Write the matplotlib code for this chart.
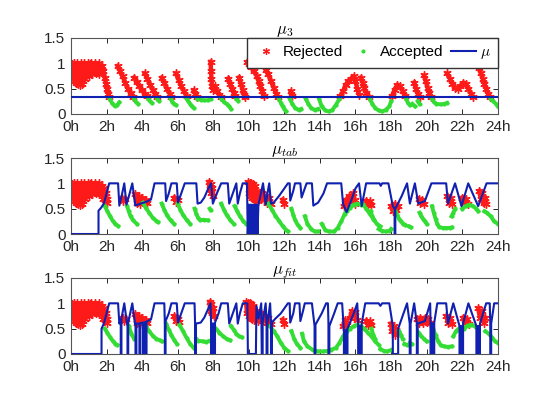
import matplotlib
matplotlib.use("Agg")
import matplotlib.pyplot as plt
from matplotlib.lines import Line2D

plt.rcParams['font.family'] = ['Liberation Sans', 'DejaVu Sans']
plt.rcParams['mathtext.fontset'] = 'cm'

RED = '#ff1a1a'
GREEN = '#33dd33'
BLUE = '#1020b0'

hours = list(range(0, 25, 2))
hour_labels = [f"{h}h" for h in hours]
yticks = [0, 0.5, 1, 1.5]
ytick_labels = ["0", "0.5", "1", "1.5"]
titles = [r"$\mu_3$", r"$\mu_{tab}$", r"$\mu_{fit}$"]

# noisy block of rejected readings at the start of the day (same in all panels)
blob = [(0.0, 0.75), (0.05, 0.98), (0.1, 0.7), (0.15, 1.0), (0.2, 0.65), (0.25, 0.95),
        (0.3, 0.62), (0.35, 1.0), (0.4, 0.6), (0.45, 0.92), (0.5, 0.58), (0.55, 1.0),
        (0.6, 0.6), (0.65, 0.97), (0.7, 0.65), (0.75, 1.0), (0.8, 0.7), (0.85, 0.95),
        (0.9, 0.78), (0.95, 1.0), (1.0, 0.75), (1.05, 0.98), (1.1, 0.8), (1.15, 1.0),
        (1.2, 0.78), (1.25, 0.95), (1.3, 0.85), (1.35, 1.0), (1.4, 0.8), (1.45, 0.97),
        (1.5, 0.82), (1.55, 1.0), (1.6, 0.78), (1.65, 0.95), (1.7, 0.85)]

# ---- panel 1: mu_3 (constant threshold)
mu3_line = [(0, 0.33), (24, 0.33)]
mu3_rej = [
    blob + [(1.75, 0.95), (1.82, 0.85), (1.9, 0.72), (1.97, 0.6), (2.03, 0.5), (2.1, 0.4), (2.15, 0.34)],
    [(2.62, 0.95), (2.75, 0.85), (2.9, 0.74), (3.05, 0.62), (3.2, 0.5), (3.35, 0.42), (3.5, 0.34)],
    [(3.55, 0.72), (3.7, 0.64), (3.85, 0.55), (4.0, 0.47), (4.15, 0.4), (4.3, 0.35)],
    [(4.15, 0.8), (4.3, 0.7), (4.45, 0.58), (4.6, 0.48), (4.75, 0.4), (4.85, 0.34)],
    [(5.1, 0.72), (5.25, 0.62), (5.4, 0.5), (5.55, 0.4), (5.65, 0.34)],
    [(5.9, 0.8), (6.05, 0.68), (6.2, 0.55), (6.35, 0.45), (6.5, 0.36)],
    [(6.9, 0.47), (7.0, 0.4), (7.1, 0.34)],
    [(7.85, 1.03), (7.88, 0.85), (7.9, 0.7), (7.93, 0.55), (8.0, 0.48), (8.1, 0.55),
     (8.2, 0.45), (8.35, 0.38), (8.45, 0.34)],
    [(8.85, 0.7), (8.95, 0.6), (9.05, 0.5), (9.15, 0.42), (9.25, 0.35)],
    [(9.45, 0.72), (9.55, 0.6), (9.65, 0.48), (9.75, 0.38), (9.8, 0.33)],
    [(9.9, 1.03), (10.0, 0.98), (10.15, 0.92), (10.3, 0.85), (10.45, 0.75), (10.55, 0.65),
     (10.65, 0.55), (10.75, 0.45), (10.85, 0.35)],
    [(10.95, 0.87), (11.1, 0.78), (11.25, 0.65), (11.4, 0.52), (11.55, 0.4), (11.65, 0.33)],
    [(12.35, 0.45), (12.45, 0.36)],
    [(15.15, 0.35), (15.3, 0.45), (15.45, 0.58), (15.6, 0.65), (15.75, 0.7), (15.9, 0.75),
     (16.0, 0.65), (16.1, 0.5), (16.2, 0.38)],
    [(16.3, 0.72), (16.4, 0.62), (16.5, 0.52), (16.6, 0.42), (16.75, 0.34)],
    [(18.05, 0.35), (18.2, 0.48), (18.35, 0.58), (18.5, 0.55), (18.65, 0.45), (18.8, 0.36)],
    [(19.3, 0.62), (19.4, 0.5), (19.5, 0.4), (19.6, 0.34)],
    [(19.85, 0.76), (19.95, 0.65), (20.05, 0.52), (20.15, 0.42), (20.25, 0.34)],
    [(21.15, 0.8), (21.3, 0.7), (21.45, 0.6), (21.6, 0.52), (21.75, 0.5), (21.9, 0.55),
     (22.05, 0.62), (22.2, 0.6), (22.35, 0.5), (22.5, 0.4), (22.6, 0.34)],
    [(22.95, 0.9), (23.05, 0.8), (23.15, 0.7), (23.25, 0.6), (23.35, 0.5), (23.45, 0.4), (23.55, 0.33)],
]
mu3_acc = [
    [(2.17, 0.3), (2.3, 0.22), (2.45, 0.16), (2.6, 0.18), (2.72, 0.23)],
    [(3.55, 0.3), (3.65, 0.24), (3.78, 0.2)],
    [(4.35, 0.3), (4.45, 0.25), (4.55, 0.22)],
    [(4.85, 0.3), (4.95, 0.26)],
    [(5.6, 0.3), (5.7, 0.24), (5.8, 0.2), (5.9, 0.18)],
    [(6.5, 0.3), (6.6, 0.25), (6.7, 0.2), (6.8, 0.15), (6.9, 0.12)],
    [(7.1, 0.3), (7.3, 0.28), (7.5, 0.27), (7.7, 0.27), (7.85, 0.3)],
    [(8.45, 0.3), (8.6, 0.24), (8.75, 0.2), (8.9, 0.15), (9.0, 0.1)],
    [(9.3, 0.3), (9.4, 0.26)],
    [(11.7, 0.3), (11.8, 0.22), (11.9, 0.15), (12.0, 0.1), (12.1, 0.05)],
    [(12.3, 0.3), (12.45, 0.2), (12.6, 0.12), (12.8, 0.08), (12.95, 0.1)],
    [(13.2, 0.3), (13.35, 0.2), (13.5, 0.12), (13.7, 0.08), (13.9, 0.1)],
    [(13.95, 0.3), (14.1, 0.15), (14.3, 0.07), (14.5, 0.05), (14.7, 0.08), (14.9, 0.18), (15.1, 0.3)],
    [(16.8, 0.3), (16.95, 0.2), (17.1, 0.12), (17.3, 0.07), (17.5, 0.05), (17.7, 0.08),
     (17.9, 0.15), (18.0, 0.25)],
    [(18.85, 0.3), (18.95, 0.22), (19.05, 0.18)],
    [(19.2, 0.2), (19.35, 0.15)],
    [(19.5, 0.25), (19.6, 0.2)],
    [(20.3, 0.3), (20.4, 0.24), (20.55, 0.2), (20.8, 0.19), (21.0, 0.2), (21.15, 0.22)],
    [(23.6, 0.3), (23.75, 0.25), (23.9, 0.2), (24.0, 0.15)],
]

# ---- panel 2: mu_tab
mutab_line = [
    (0, 0), (1.55, 0), (1.55, 0.46), (1.7, 0.52), (1.85, 0.6), (2.0, 0.8), (2.15, 1.0),
    (2.65, 1.0), (2.72, 0.56), (2.85, 0.75), (3.0, 1.0), (3.12, 0.58), (3.3, 0.8), (3.45, 1.0),
    (3.62, 0.56), (3.9, 0.6), (4.2, 0.63), (4.5, 0.68), (4.7, 1.0), (5.3, 1.0), (5.35, 0.65),
    (5.5, 0.8), (5.65, 1.0), (5.95, 1.0), (6.02, 0.62), (6.2, 0.8), (6.4, 1.0), (7.05, 1.0),
    (7.12, 0.6), (7.3, 0.62), (7.5, 0.72), (7.7, 0.88), (7.88, 1.0), (7.98, 0.6), (8.2, 0.8),
    (8.45, 1.0), (8.82, 1.0), (8.9, 0.6), (9.1, 0.8), (9.3, 1.0), (9.38, 0.6), (9.5, 0.8),
    (9.66, 1.0), (9.9, 1.0), (9.94, 0.0), (10.0, 0.58), (10.04, 0), (10.09, 0.58), (10.13, 0),
    (10.18, 0.58), (10.22, 0), (10.27, 0.58), (10.31, 0), (10.36, 0.58), (10.4, 0),
    (10.45, 0.58), (10.49, 0), (10.54, 0.58), (10.62, 0.7), (10.8, 1.0), (10.95, 0.58),
    (11.05, 0.8), (11.15, 1.0), (11.25, 0.6), (11.4, 0.62), (11.7, 0.75), (12.0, 0.9),
    (12.2, 1.0), (12.3, 1.0), (12.33, 0.66), (12.5, 0.85), (12.6, 1.0), (12.9, 1.0),
    (12.97, 0.72), (13.1, 0.85), (13.25, 1.0), (13.55, 1.0), (13.63, 0.56), (13.9, 0.62),
    (14.2, 0.8), (14.4, 1.0), (15.2, 1.0), (15.3, 0.6), (15.5, 0.43), (15.8, 0.7),
    (16.0, 0.9), (16.2, 1.0), (16.35, 0.55), (16.6, 1.0), (17.35, 1.0), (17.42, 0.95),
    (17.5, 1.0), (17.85, 1.0), (18.1, 0.55), (18.2, 0.5), (18.2, 0.0), (18.24, 0.0),
    (18.24, 0.5), (18.6, 0.75), (18.9, 1.0), (19.06, 0.6), (19.34, 1.0), (19.53, 0.6),
    (19.9, 0.65), (20.27, 1.0), (21.1, 1.0), (21.2, 0.6), (21.6, 1.0), (21.96, 0.55),
    (22.34, 1.0), (22.9, 0.55), (23.37, 1.0), (24.0, 1.0),
]
mutab_rej = [
    blob + [(1.75, 0.95), (1.8, 0.7), (1.85, 0.9), (1.9, 0.68), (1.95, 0.8), (2.0, 0.62), (2.05, 0.7)],
    [(2.85, 0.72), (2.95, 0.66), (3.05, 0.7)],
    [(3.6, 0.78), (3.7, 0.62), (3.8, 0.75), (3.9, 0.6), (4.0, 0.72), (4.1, 0.62), (4.2, 0.68), (4.3, 0.62)],
    [(5.8, 0.72), (5.9, 0.64), (6.0, 0.68)],
    [(7.75, 1.03), (7.8, 0.88), (7.85, 0.98), (7.9, 0.8), (7.95, 0.9), (8.0, 0.76)],
    [(9.95, 1.02), (10.0, 0.8), (10.05, 1.0), (10.1, 0.75), (10.15, 1.0), (10.2, 0.72),
     (10.25, 0.98), (10.3, 0.7), (10.35, 0.95), (10.4, 0.68), (10.45, 0.85), (10.5, 0.66),
     (10.55, 0.78), (10.6, 0.7)],
    [(10.75, 0.8), (10.85, 0.68), (10.95, 0.75), (11.05, 0.62), (11.15, 0.72), (11.25, 0.6)],
    [(11.9, 0.68), (12.0, 0.6)],
    [(15.35, 0.55), (15.45, 0.68), (15.55, 0.6), (15.65, 0.75), (15.75, 0.7), (15.85, 0.8),
     (15.95, 0.68), (16.0, 0.6)],
    [(16.6, 0.66), (16.7, 0.58), (16.8, 0.65), (16.9, 0.58)],
    [(18.0, 0.55), (18.1, 0.45), (18.2, 0.6), (18.3, 0.48), (18.4, 0.55)],
    [(19.55, 0.7), (19.65, 0.62), (19.75, 0.68), (19.85, 0.6)],
    [(21.15, 0.75), (21.25, 0.62), (21.35, 0.72), (21.45, 0.6)],
    [(22.0, 0.72), (22.1, 0.62), (22.2, 0.7), (22.3, 0.6)],
    [(22.95, 0.85), (23.05, 0.7), (23.1, 0.8), (23.2, 0.62), (23.3, 0.72), (23.35, 0.6)],
]
mutab_acc = [
    [(1.9, 0.55), (2.05, 0.45), (2.2, 0.35), (2.35, 0.26), (2.5, 0.2), (2.65, 0.16)],
    [(3.15, 0.55), (3.25, 0.45), (3.35, 0.35), (3.5, 0.27), (3.7, 0.2)],
    [(4.05, 0.62), (4.2, 0.52), (4.4, 0.42), (4.6, 0.32), (4.8, 0.26), (4.9, 0.24)],
    [(5.1, 0.6), (5.25, 0.48), (5.4, 0.37), (5.6, 0.27), (5.8, 0.2)],
    [(6.0, 0.6), (6.15, 0.48), (6.3, 0.38), (6.5, 0.28), (6.7, 0.2)],
    [(6.95, 0.5), (7.05, 0.4), (7.15, 0.32), (7.25, 0.28), (7.5, 0.28), (7.7, 0.27)],
    [(7.8, 0.5), (7.85, 0.47)],
    [(8.45, 0.6), (8.6, 0.48), (8.75, 0.38), (8.95, 0.28), (9.15, 0.2)],
    [(9.2, 0.55), (9.35, 0.45), (9.5, 0.35), (9.7, 0.25), (9.85, 0.2)],
    [(11.1, 0.6), (11.3, 0.48), (11.5, 0.36), (11.7, 0.26), (11.9, 0.16), (12.1, 0.08), (12.2, 0.05)],
    [(12.4, 0.5), (12.5, 0.38), (12.6, 0.28), (12.75, 0.18), (12.9, 0.12)],
    [(13.15, 0.35), (13.3, 0.2), (13.5, 0.1), (13.7, 0.05), (13.9, 0.05)],
    [(14.1, 0.2), (14.3, 0.08), (14.5, 0.05), (14.8, 0.05), (15.0, 0.12), (15.2, 0.25), (15.4, 0.4)],
    [(15.5, 0.45), (15.7, 0.52), (15.9, 0.58), (16.1, 0.6), (16.3, 0.58)],
    [(16.4, 0.6), (16.6, 0.5), (16.8, 0.4), (17.0, 0.3), (17.2, 0.2), (17.4, 0.15)],
    [(16.85, 0.45), (16.95, 0.35), (17.05, 0.28)],
    [(17.3, 0.1), (17.5, 0.06), (17.7, 0.05), (17.9, 0.06), (18.0, 0.1)],
    [(18.25, 0.45), (18.35, 0.38), (18.45, 0.3), (18.55, 0.25)],
    [(18.7, 0.2), (18.8, 0.18)],
    [(19.0, 0.15), (19.1, 0.13)],
    [(19.6, 0.42), (19.7, 0.35), (19.8, 0.3), (19.9, 0.25), (20.0, 0.2)],
    [(20.3, 0.55), (20.4, 0.42), (20.5, 0.3), (20.6, 0.2), (20.7, 0.14), (20.9, 0.12),
     (21.1, 0.12), (21.3, 0.12), (21.4, 0.13)],
    [(21.4, 0.35), (21.5, 0.42), (21.6, 0.5)],
    [(22.0, 0.5), (22.2, 0.55), (22.4, 0.58), (22.6, 0.55), (22.8, 0.5), (22.9, 0.45)],
    [(23.25, 0.45), (23.4, 0.42), (23.6, 0.35), (23.8, 0.25), (24.0, 0.2)],
]

# ---- panel 3: mu_fit
mufit_line = [
    (0, 0), (1.72, 0), (1.72, 0.5), (1.85, 0.6), (2.0, 0.8), (2.15, 1.0), (2.65, 1.0),
    (2.72, 0.6), (2.8, 0.68), (2.8, 0), (2.84, 0), (2.84, 0.7), (3.0, 1.0), (3.15, 0.6),
    (3.18, 0.6), (3.18, 0), (3.22, 0), (3.22, 0.62), (3.45, 1.0), (3.6, 0.6), (3.63, 0.6),
    (3.63, 0), (3.68, 0), (3.68, 0.6), (3.85, 0.6), (3.85, 0), (3.9, 0), (3.9, 0.61),
    (4.05, 0.62), (4.05, 0), (4.1, 0), (4.1, 0.62), (4.2, 0.63), (4.2, 0), (4.25, 0),
    (4.25, 0.64), (4.5, 0.68), (4.7, 1.0), (5.25, 1.0), (5.28, 0.6), (5.28, 0), (5.32, 0),
    (5.32, 0.65), (5.5, 0.8), (5.65, 1.0), (5.95, 1.0), (6.02, 0.62), (6.2, 0.8), (6.4, 1.0),
    (6.95, 1.0), (6.98, 0.6), (6.98, 0), (7.03, 0), (7.03, 0.6), (7.3, 0.62), (7.5, 0.72),
    (7.7, 0.88), (7.85, 1.0), (7.88, 0.6), (7.88, 0), (7.93, 0), (7.93, 0.6), (8.05, 0.6),
    (8.05, 0), (8.1, 0), (8.1, 0.62), (8.3, 0.8), (8.45, 1.0), (8.82, 1.0), (8.9, 0.6),
    (9.1, 0.8), (9.3, 1.0), (9.38, 0.6), (9.5, 0.8), (9.66, 1.0), (9.92, 1.0), (9.95, 0),
    (10.4, 0), (10.43, 0.95), (10.55, 0.7), (10.7, 1.0), (10.73, 0), (10.78, 0), (10.78, 0.62),
    (10.95, 1.0), (11.0, 0.6), (11.0, 0), (11.05, 0), (11.05, 0.6), (11.2, 1.0), (11.25, 0.6),
    (11.25, 0), (11.3, 0), (11.3, 0.62), (11.5, 0.7), (11.8, 0.8), (12.0, 0.9), (12.2, 1.0),
    (12.3, 1.0), (12.33, 0.62), (12.5, 0.8), (12.6, 1.0), (12.85, 1.0), (12.9, 0.65),
    (13.05, 0.85), (13.15, 1.0), (13.55, 1.0), (13.7, 0.55), (13.7, 0), (13.75, 0),
    (13.75, 0.58), (14.1, 0.8), (14.35, 1.0), (14.45, 1.0), (14.48, 0.6), (14.48, 0),
    (14.53, 0), (14.53, 0.55), (14.8, 0.8), (15.0, 1.0), (15.25, 1.0), (15.35, 0.45),
    (15.35, 0), (15.4, 0), (15.4, 0.45), (15.5, 0.48), (15.5, 0), (15.55, 0), (15.55, 0.5),
    (15.9, 0.8), (16.1, 1.0), (16.15, 0.6), (16.15, 0), (16.2, 0), (16.2, 0.55), (16.3, 0.55),
    (16.3, 0), (16.35, 0), (16.35, 0.6), (16.55, 1.0), (17.3, 1.0), (17.4, 0.95), (17.5, 1.0),
    (17.9, 1.0), (18.1, 0.55), (18.1, 0), (18.4, 0), (18.4, 0.5), (18.9, 1.0), (19.05, 0.6),
    (19.05, 0), (19.1, 0), (19.1, 0.6), (19.3, 1.0), (19.45, 0.6), (19.45, 0), (19.5, 0),
    (19.5, 0.6), (19.9, 0.65), (20.2, 1.0), (20.22, 0.6), (20.22, 0), (20.27, 0),
    (20.27, 0.6), (20.38, 0.6), (20.38, 0), (20.43, 0), (20.43, 0.62), (20.6, 1.0), (21.1, 1.0),
    (21.2, 0.6), (21.5, 1.0), (21.85, 0.55), (21.85, 0), (21.9, 0), (21.9, 0.55), (22.0, 0.55),
    (22.0, 0), (22.05, 0), (22.05, 0.6), (22.35, 1.0), (22.8, 0.55), (22.8, 0), (22.85, 0),
    (22.85, 0.55), (22.95, 0.55), (22.95, 0), (23.0, 0), (23.0, 0.6), (23.35, 1.0),
    (23.55, 1.0), (23.58, 0.6), (23.58, 0), (23.63, 0), (23.63, 0.6), (23.8, 1.0), (24.0, 1.0),
]
mufit_rej = [
    blob + [(1.75, 0.95), (1.8, 0.7), (1.85, 0.9), (1.9, 0.68), (1.95, 0.8), (2.0, 0.62), (2.05, 0.7)],
    [(2.9, 0.72), (3.0, 0.65), (3.1, 0.7)],
    [(3.6, 0.78), (3.7, 0.62), (3.8, 0.75), (3.9, 0.6), (4.0, 0.72), (4.1, 0.62), (4.2, 0.68), (4.3, 0.62)],
    [(5.8, 0.75), (5.9, 0.65), (6.0, 0.7), (6.1, 0.64)],
    [(7.8, 1.03), (7.85, 0.85), (7.9, 0.98), (7.95, 0.8), (8.0, 0.9), (8.05, 0.74)],
    [(9.85, 1.02), (9.9, 0.8), (9.95, 1.0), (10.0, 0.75), (10.05, 1.0), (10.1, 0.72),
     (10.15, 0.98), (10.2, 0.7), (10.25, 0.95), (10.3, 0.68), (10.4, 0.85), (10.5, 0.66),
     (10.55, 0.78), (10.6, 0.7)],
    [(10.7, 0.8), (10.8, 0.68), (10.9, 0.75), (11.0, 0.62), (11.1, 0.72), (11.25, 0.6)],
    [(11.9, 0.68), (12.0, 0.6)],
    [(15.3, 0.55), (15.4, 0.68), (15.5, 0.58)],
    [(15.7, 0.72), (15.8, 0.85), (15.9, 0.75), (16.0, 0.82), (16.1, 0.68)],
    [(16.6, 0.66), (16.7, 0.58), (16.8, 0.65), (16.9, 0.58)],
    [(18.0, 0.6), (18.05, 0.45), (18.15, 0.55), (18.2, 0.38), (18.3, 0.48)],
    [(19.45, 0.7), (19.55, 0.62), (19.65, 0.72), (19.8, 0.62)],
    [(19.9, 0.72), (20.0, 0.64), (20.1, 0.7), (20.2, 0.62)],
    [(21.1, 0.75), (21.2, 0.62), (21.3, 0.72), (21.45, 0.6)],
    [(22.05, 0.72), (22.15, 0.62), (22.25, 0.7), (22.4, 0.6)],
    [(22.9, 0.9), (23.0, 0.72), (23.1, 0.85), (23.2, 0.62), (23.3, 0.72)],
]
mufit_acc = [
    [(1.9, 0.5), (2.05, 0.42), (2.2, 0.33), (2.35, 0.26), (2.5, 0.2), (2.6, 0.18)],
    [(3.25, 0.55), (3.4, 0.4), (3.55, 0.3)],
    [(4.2, 0.55), (4.4, 0.45), (4.6, 0.36), (4.8, 0.3), (5.0, 0.27), (5.1, 0.25)],
    [(5.35, 0.6), (5.5, 0.48), (5.65, 0.37), (5.8, 0.28), (5.95, 0.2)],
    [(6.1, 0.58), (6.3, 0.45), (6.5, 0.32), (6.7, 0.2), (6.9, 0.12)],
    [(7.05, 0.3), (7.15, 0.26), (7.4, 0.25), (7.6, 0.24), (7.8, 0.26)],
    [(8.15, 0.5), (8.35, 0.42), (8.55, 0.35), (8.75, 0.3), (8.95, 0.27)],
    [(9.0, 0.55), (9.15, 0.48), (9.3, 0.4), (9.45, 0.35), (9.6, 0.33)],
    [(11.2, 0.55), (11.4, 0.45), (11.6, 0.35), (11.8, 0.22), (12.0, 0.12), (12.2, 0.06)],
    [(12.4, 0.45), (12.55, 0.3), (12.7, 0.2), (12.9, 0.12)],
    [(13.0, 0.4), (13.1, 0.25), (13.3, 0.15), (13.6, 0.08), (13.9, 0.05), (14.2, 0.05), (14.4, 0.06)],
    [(14.6, 0.08), (14.9, 0.12), (15.1, 0.22), (15.3, 0.35), (15.5, 0.45)],
    [(15.7, 0.5), (15.9, 0.55), (16.1, 0.58), (16.3, 0.55), (16.5, 0.5), (16.7, 0.42),
     (16.9, 0.35), (17.1, 0.25), (17.3, 0.18)],
    [(16.9, 0.5), (17.0, 0.38), (17.1, 0.3)],
    [(17.4, 0.1), (17.6, 0.06), (17.8, 0.05), (18.0, 0.08)],
    [(18.45, 0.45), (18.55, 0.38), (18.65, 0.3)],
    [(18.75, 0.2), (18.9, 0.18)],
    [(19.05, 0.22), (19.15, 0.2)],
    [(19.55, 0.42), (19.7, 0.35), (19.85, 0.3), (20.0, 0.25)],
    [(20.35, 0.5), (20.5, 0.38), (20.65, 0.25), (20.8, 0.17), (21.0, 0.15), (21.2, 0.14), (21.4, 0.15)],
    [(21.5, 0.35), (21.65, 0.45), (21.8, 0.5)],
    [(22.1, 0.5), (22.3, 0.56), (22.5, 0.58), (22.7, 0.55), (22.9, 0.48)],
    [(23.3, 0.45), (23.5, 0.4), (23.7, 0.32), (23.85, 0.25), (24.0, 0.22)],
]

panels = [
    (mu3_line, mu3_rej, mu3_acc),
    (mutab_line, mutab_rej, mutab_acc),
    (mufit_line, mufit_rej, mufit_acc),
]

STAR = (6, 2, 0)

fig = plt.figure(figsize=(5.5, 3.99), dpi=100)
bottoms = [0.7143, 0.4135, 0.1128]
for i, (line, rej, acc) in enumerate(panels):
    ax = fig.add_axes([0.129, bottoms[i], 0.776, 0.1905])
    for seg in rej:
        t, v = zip(*seg)
        ax.plot(t, v, color=RED, lw=3.2, marker=STAR, ms=6, mew=1.0, zorder=2)
    for seg in acc:
        t, v = zip(*seg)
        ax.plot(t, v, color=GREEN, lw=2.8, marker='.', ms=4, zorder=2)
    t, v = zip(*line)
    ax.plot(t, v, color=BLUE, lw=1.5, zorder=3)
    ax.set_xlim(0, 24)
    ax.set_ylim(0, 1.5)
    ax.set_xticks(hours)
    ax.set_xticklabels(hour_labels)
    ax.set_yticks(yticks)
    ax.set_yticklabels(ytick_labels)
    ax.tick_params(direction='in', length=3.5, width=0.7, top=True, right=True,
                   labelsize=11, colors='#262626', pad=4)
    for s in ax.spines.values():
        s.set_color('#555555')
        s.set_linewidth(0.8)
    ax.set_title(titles[i], fontsize=12, pad=3)

    if i == 0:
        handles = [
            Line2D([], [], color=RED, ls='none', marker=STAR, ms=5, mew=0.9),
            Line2D([], [], color=GREEN, ls='none', marker='.', ms=4),
            Line2D([], [], color=BLUE, lw=1.5),
        ]
        ax.legend(handles, ["Rejected", "Accepted", r"$\mu$"], loc='upper right', ncol=3,
                  fontsize=11, frameon=True, fancybox=False, edgecolor='#333333',
                  framealpha=1, borderaxespad=0, handlelength=1.6, handletextpad=0.3,
                  columnspacing=0.5, borderpad=0.45)

fig.savefig("out.png", dpi=100)
